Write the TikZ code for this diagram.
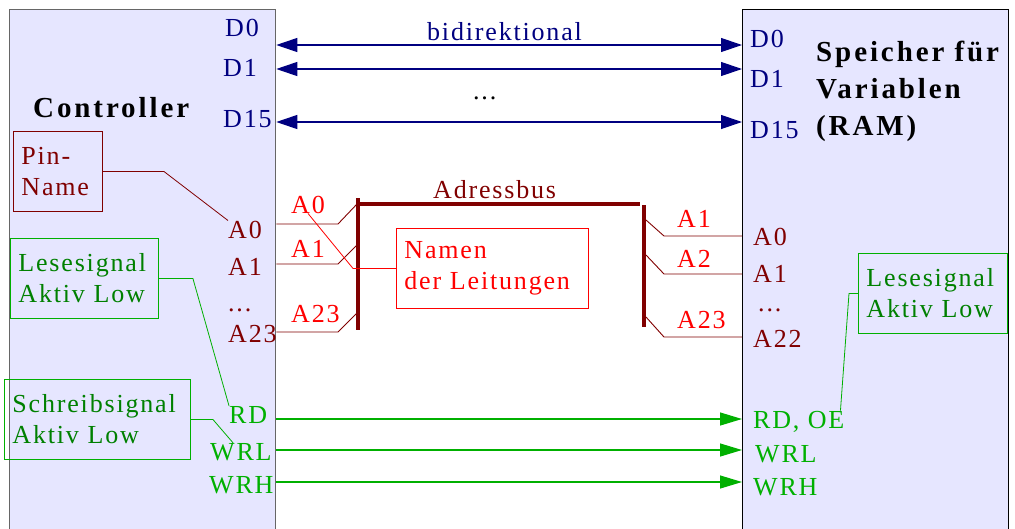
\documentclass[tikz,border=0pt]{standalone}
\usepackage{fontspec}
\setmainfont{Liberation Serif}[LetterSpace=7]
\usetikzlibrary{arrows.meta}

\definecolor{chipfill}{HTML}{E6E6FF}
\definecolor{datablue}{HTML}{000080}
\definecolor{addrdark}{HTML}{800000}
\definecolor{addrred}{HTML}{FF0000}
\definecolor{sigline}{HTML}{00B000}
\definecolor{sigtext}{HTML}{008000}

\begin{document}
\begin{tikzpicture}[
		x=1pt, y=-1pt,
		every node/.style={inner sep=0pt, font=\fontsize{26}{31}\selectfont},
		chip/.style={draw=#1, fill=chipfill, line width=1.3pt,
			minimum width=266pt, minimum height=540pt, anchor=north west},
		pin/.style={anchor=base west},
		title/.style={anchor=base west, align=left,
			font=\fontsize{29}{37}\selectfont\bfseries\addfontfeatures{LetterSpace=10}},
		note/.style 2 args={draw=#1, text=#2, line width=0.9pt, anchor=north west,
			align=left, inner xsep=8pt, minimum height=80pt},
		dbus/.style={datablue, line width=1.2pt,
			{Triangle[length=21pt,width=14pt]}-{Triangle[length=21pt,width=14pt]}},
		sig/.style={sigline, line width=1.2pt, -{Triangle[length=22pt,width=13pt]}},
		addr/.style={addrdark, line width=0.9pt},
		bus/.style={addrdark, line width=4pt},
		lead/.style={line width=0.8pt}
	]
	\useasboundingbox (0,0) rectangle (1015,528);
	\clip (0,0) rectangle (1015,528);
	
	% Chips
	\node[chip=black!60] (ctrl) at (9,9) {};
	\node[chip=black] (ram) at (742,9) {};
	
	\node[title] (ctrltitle) at (33,117) {Controller};
	\node[title, anchor=north west] (ramtitle) at (816,41) {Speicher für\\Variablen\\(RAM)};
	
	% Data bus
	\foreach \y in {45,69,122}
		\draw[dbus] (ctrl.east |- 0,\y) -- (ram.west |- 0,\y);
	
	\node[pin, text=datablue] (bidir) at (427,40) {bidirektional};
	\node[pin] (ddots) at (473,99) {...};
	
	\node[pin, text=datablue] (ld0) at (225,36) {D0};
	\node[pin, text=datablue] (ld1) at (223,76) {D1};
	\node[pin, text=datablue] (ld15) at (223,127) {D15};
	\node[pin, text=datablue] (rd0) at (750,47) {D0};
	\node[pin, text=datablue] (rd1) at (750,87) {D1};
	\node[pin, text=datablue] (rd15) at (750,138) {D15};
	
	% Address bus
	\draw[bus] (358,198) -- (358,330);
	\draw[bus] (358,204) -- (640,204);
	\draw[bus] (644,205) -- (644,327);
	\node[pin, text=addrdark] (abus) at (433,198) {Adressbus};
	
	\foreach \y/\t in {224/204, 264/245, 332/313}
		\draw[addr] (ctrl.east |- 0,\y) -- (338,\y) -- (357,\t);
	\foreach \s/\y in {220/236, 255/274, 317/337}
		\draw[addr] (646,\s) -- (664,\y) -- (ram.west |- 0,\y);
	
	\node[pin, text=addrdark] (la0) at (228,238) {A0};
	\node[pin, text=addrdark] (la1) at (228,275) {A1};
	\node[pin, text=addrdark] (ladots) at (228,311) {...};
	\node[pin, text=addrdark] (la23) at (228,342) {A23};
	
	\node[pin, text=addrred] (ra0) at (291,213) {A0};
	\node[pin, text=addrred] (ra1) at (291,257) {A1};
	\node[pin, text=addrred] (ra23) at (291,322) {A23};
	
	\node[pin, text=addrred] (sa1) at (677,227) {A1};
	\node[pin, text=addrred] (sa2) at (677,267) {A2};
	\node[pin, text=addrred] (sa23) at (677,328) {A23};
	
	\node[pin, text=addrdark] (ma0) at (753,245) {A0};
	\node[pin, text=addrdark] (ma1) at (753,282) {A1};
	\node[pin, text=addrdark] (madots) at (758,311) {...};
	\node[pin, text=addrdark] (ma22) at (753,347) {A22};
	
	% Control signals
	\foreach \y in {419,450,482}
		\draw[sig] (ctrl.east |- 0,\y) -- (ram.west |- 0,\y);
	
	\node[pin, text=sigline] (lrd) at (229,423) {RD};
	\node[pin, text=sigline] (lwrl) at (210,460) {WRL};
	\node[pin, text=sigline] (lwrh) at (209,493) {WRH};
	\node[pin, text=sigline] (rrd) at (753,428) {RD, OE};
	\node[pin, text=sigline] (rwrl) at (755,462) {WRL};
	\node[pin, text=sigline] (rwrh) at (753,495) {WRH};
	
	% Notes
	\node[note={addrdark}{addrdark}, text width=73pt] (pinname) at (13,131) {Pin-\\Name};
	\node[note={sigline}{sigtext}, text width=132pt] (leseL) at (10,238) {Lesesignal\\Aktiv Low};
	\node[note={sigline}{sigtext}, text width=170pt] (schreib) at (4,379) {Schreibsignal\\Aktiv Low};
	\node[note={addrred}{addrred}, text width=176pt] (namen) at (396,228) {Namen\\der Leitungen};
	\node[note={sigline}{sigtext}, text width=133pt] (leseR) at (858,253) {Lesesignal\\Aktiv Low};
	
	\draw[addr, lead] (pinname.east) -- ++(61,0) -- (la0.north west);
	\draw[addrred, lead] (namen.west) -- ++(-43,0) -- (ra0.south);
	\draw[sigline, lead] (leseL.east) -- ++(34,0) -- (lrd.north west);
	\draw[sigline, lead] (schreib.east) -- ++(22,0) -- ([xshift=23pt]lwrl.north west);
	\draw[sigline, lead] (leseR.west) -- ++(-9,0) -- ([xshift=-4pt]rrd.north east);
\end{tikzpicture}
\end{document}
